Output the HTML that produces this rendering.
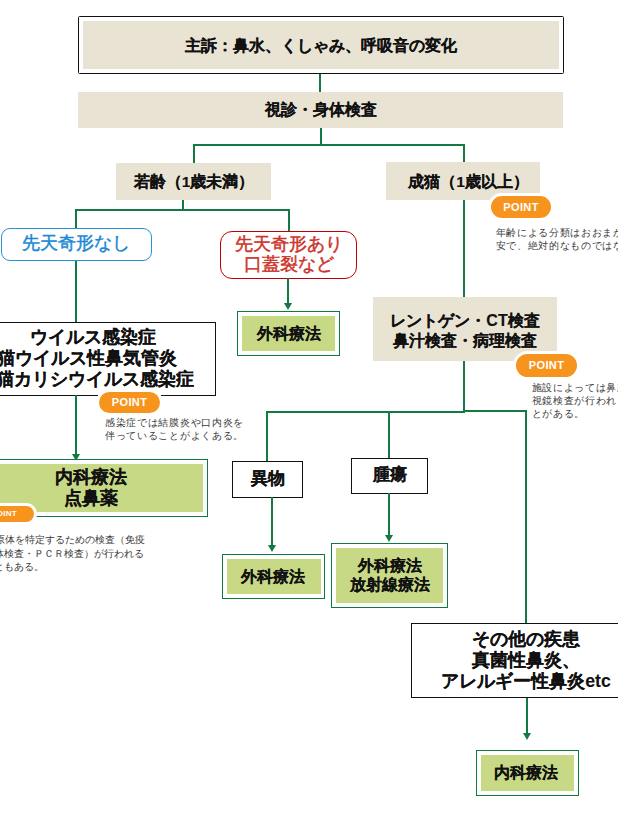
<!DOCTYPE html>
<html><head><meta charset="utf-8">
<style>
html,body{margin:0;padding:0;background:#fff;}
body{width:618px;height:828px;position:relative;overflow:hidden;font-family:"Liberation Sans",sans-serif;color:#111;}
.a{position:absolute;box-sizing:border-box;}
.bg{background:#E9E3D4;}
.gl{position:absolute;background:#137A43;}
.t{position:absolute;white-space:nowrap;text-align:center;font-weight:bold;line-height:1;-webkit-text-stroke:0.12px #111;}
.gb{position:absolute;box-sizing:border-box;border:1.5px solid #0F7A40;background:#fff;}
.gf{position:absolute;background:#C8D986;}
.bk{position:absolute;box-sizing:border-box;border:1.5px solid #111;background:#fff;}
.pt{position:absolute;box-sizing:content-box;background:#F7941D;border:3px solid #fff;border-radius:20px;color:#fff;font-weight:bold;font-size:11px;text-align:center;letter-spacing:0.4px;}
.sm{position:absolute;white-space:nowrap;font-size:9.6px;letter-spacing:0.7px;color:#3a3a3a;line-height:13.3px;}
.arr{position:absolute;width:0;height:0;border-left:4px solid transparent;border-right:4px solid transparent;border-top:7.5px solid #137A43;}
</style></head><body>

<!-- top box -->
<div class="a" style="left:78px;top:16px;width:486px;height:58px;border:1.7px solid #111;border-radius:1.5px;"></div>
<div class="a bg" style="left:83px;top:21px;width:476px;height:48px;"></div>
<div class="t" style="left:83px;top:37.5px;width:476px;font-size:16px;">主訴：鼻水、くしゃみ、呼吸音の変化</div>

<div class="gl" style="left:319px;top:74px;width:2px;height:18px;"></div>
<!-- bar -->
<div class="a bg" style="left:78px;top:92px;width:485px;height:36px;"></div>
<div class="t" style="left:78.5px;top:102px;width:485px;font-size:16px;">視診・身体検査</div>

<div class="gl" style="left:320px;top:128px;width:2px;height:18px;"></div>
<div class="gl" style="left:193px;top:144px;width:272px;height:2px;"></div>
<div class="gl" style="left:193px;top:144px;width:2px;height:19px;"></div>
<div class="gl" style="left:463px;top:144px;width:2px;height:18px;"></div>

<!-- young -->
<div class="a bg" style="left:116px;top:163px;width:155px;height:37px;"></div>
<div class="t" style="left:119px;top:173.5px;width:150px;font-size:15.5px;">若齢（1歳未満）</div>
<!-- adult -->
<div class="a bg" style="left:386px;top:162px;width:154px;height:38px;"></div>
<div class="t" style="left:391.5px;top:174px;width:154px;font-size:15.5px;">成猫（1歳以上）</div>

<div class="gl" style="left:182px;top:200px;width:2px;height:11px;"></div>
<div class="gl" style="left:75px;top:209px;width:215px;height:2px;"></div>
<div class="gl" style="left:75px;top:209px;width:2px;height:113px;"></div>
<div class="gl" style="left:288px;top:209px;width:2px;height:22px;"></div>

<!-- blue -->
<div class="a" style="left:1px;top:228px;width:151px;height:33px;border:1.2px solid #2A93D5;border-radius:9px;background:#fff;"></div>
<div class="t" style="left:0px;top:235px;width:151px;font-size:17.5px;font-weight:normal;color:#1B88D4;-webkit-text-stroke:0.45px #1B88D4;">先天奇形なし</div>

<!-- red -->
<div class="a" style="left:220px;top:231px;width:137px;height:48px;border:1.3px solid #C00000;border-radius:12px;background:#fff;"></div>
<div class="t" style="left:220px;top:233.5px;width:137px;font-size:17.5px;font-weight:normal;color:#CC3329;line-height:20.5px;-webkit-text-stroke:0.45px #CC3329;">先天奇形あり<br>口蓋裂など</div>

<div class="gl" style="left:287px;top:278px;width:2px;height:26px;"></div>
<div class="arr" style="left:284px;top:303px;"></div>

<!-- surgery 1 -->
<div class="gb" style="left:237px;top:311px;width:103px;height:45px;"></div>
<div class="gf" style="left:242px;top:316px;width:93px;height:35px;"></div>
<div class="t" style="left:242px;top:326px;width:93px;font-size:15.5px;">外科療法</div>

<!-- virus box -->
<div class="bk" style="left:-27px;top:322px;width:243px;height:74px;"></div>
<div class="t" style="left:-27px;top:328.5px;width:240px;font-size:17.7px;">ウイルス感染症</div>
<div class="t" style="left:-3.5px;top:349.8px;text-align:left;font-size:17.7px;">猫ウイルス性鼻気管炎</div>
<div class="t" style="left:-4px;top:371.1px;text-align:left;font-size:17.7px;">猫カリシウイルス感染症</div>

<div class="gl" style="left:75px;top:395px;width:2px;height:59px;"></div>
<div class="arr" style="left:72px;top:453.5px;"></div>

<div class="pt" style="left:96px;top:389px;width:61px;height:21px;line-height:21px;">POINT</div>
<div class="sm" style="left:105px;top:415.5px;">感染症では結膜炎や口内炎を<br>伴っていることがよくある。</div>

<!-- naika 1 -->
<div class="gb" style="left:-25px;top:459px;width:233px;height:58px;"></div>
<div class="gf" style="left:-21px;top:464px;width:224px;height:48px;"></div>
<div class="t" style="left:-21px;top:467px;width:224px;font-size:17.5px;line-height:20.5px;">内科療法<br>点鼻薬</div>
<div class="pt" style="left:-29px;top:503px;width:60px;height:16px;line-height:16px;font-size:8px;letter-spacing:0.3px;">POINT</div>
<div class="sm" style="left:-5.5px;top:533px;letter-spacing:0;">原体を特定するための検査（免疫</div>
<div class="sm" style="left:-6px;top:546.5px;letter-spacing:0;">体検査・ＰＣＲ検査）が行われる</div>
<div class="sm" style="left:-6px;top:560px;letter-spacing:0;">ともある。</div>

<!-- right column -->
<div class="gl" style="left:463px;top:200px;width:2px;height:97px;"></div>
<div class="pt" style="left:488px;top:193px;width:60px;height:22px;line-height:22px;">POINT</div>
<div class="sm" style="left:495.5px;top:225.7px;">年齢による分類はおおまかな目<br>安で、絶対的なものではない。</div>

<div class="a bg" style="left:373px;top:297px;width:184px;height:64px;"></div>
<div class="t" style="left:373px;top:311px;width:184px;font-size:16px;line-height:19.5px;">レントゲン・CT検査<br>鼻汁検査・病理検査</div>
<div class="pt" style="left:513px;top:351px;width:61px;height:23px;line-height:23px;">POINT</div>
<div class="sm" style="left:531.5px;top:380.5px;">施設によっては鼻腔内<br>視鏡検査が行われるこ<br>とがある。</div>

<div class="gl" style="left:463px;top:361px;width:2px;height:51px;"></div>
<div class="gl" style="left:266px;top:410.5px;width:199px;height:2px;"></div>
<div class="gl" style="left:463px;top:409.5px;width:64px;height:2px;"></div>
<div class="gl" style="left:266px;top:410.5px;width:2px;height:51px;"></div>
<div class="gl" style="left:388px;top:410.5px;width:2px;height:47px;"></div>
<div class="gl" style="left:525px;top:409.5px;width:2px;height:214px;"></div>

<!-- foreign body -->
<div class="bk" style="left:232px;top:461px;width:71px;height:37px;"></div>
<div class="t" style="left:232px;top:470.6px;width:71px;font-size:16.8px;">異物</div>
<!-- tumor -->
<div class="bk" style="left:351px;top:457.5px;width:77px;height:36px;"></div>
<div class="t" style="left:351px;top:467.3px;width:77px;font-size:16.8px;">腫瘍</div>

<div class="gl" style="left:271px;top:497px;width:2px;height:49px;"></div>
<div class="arr" style="left:268px;top:545px;"></div>
<div class="gl" style="left:388px;top:493px;width:2px;height:43px;"></div>
<div class="arr" style="left:385px;top:535px;"></div>

<div class="gb" style="left:222px;top:554px;width:103px;height:45px;"></div>
<div class="gf" style="left:226.5px;top:559px;width:94px;height:35px;"></div>
<div class="t" style="left:225.5px;top:568.5px;width:94px;font-size:15.5px;">外科療法</div>

<div class="gb" style="left:331px;top:543px;width:117px;height:65px;"></div>
<div class="gf" style="left:335.5px;top:548px;width:107.5px;height:54.5px;"></div>
<div class="t" style="left:335.5px;top:556px;width:108px;font-size:15.7px;line-height:19px;">外科療法<br>放射線療法</div>

<!-- other -->
<div class="bk" style="left:411px;top:623px;width:230px;height:75px;"></div>
<div class="t" style="left:411px;top:629px;width:230px;font-size:17.7px;line-height:21.2px;">その他の疾患<br>真菌性鼻炎、<br>アレルギー性鼻炎etc</div>

<div class="gl" style="left:526px;top:698px;width:2px;height:36px;"></div>
<div class="arr" style="left:523px;top:733px;"></div>

<div class="gb" style="left:476px;top:749.5px;width:103px;height:46px;"></div>
<div class="gf" style="left:481px;top:754.5px;width:93px;height:36px;"></div>
<div class="t" style="left:479.5px;top:765px;width:93px;font-size:15.5px;">内科療法</div>

</body></html>
